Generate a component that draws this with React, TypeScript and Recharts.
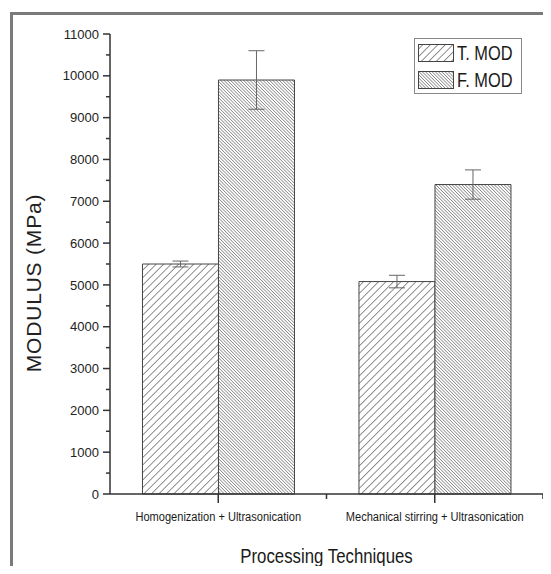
import React from "react";
import { BarChart, Bar, XAxis, YAxis, ErrorBar, Label } from "recharts";

const categories = ["Homogenization + Ultrasonication", "Mechanical stirring + Ultrasonication"];
const tMod = [5500, 5080];
const tModErr = [70, 150];
const fMod = [9900, 7400];
const fModErr = [700, 350];
const seriesNames = ["T. MOD", "F. MOD"];
const yTicks = [
    0, 500, 1000, 1500, 2000, 2500, 3000, 3500, 4000, 4500, 5000, 5500,
    6000, 6500, 7000, 7500, 8000, 8500, 9000, 9500, 10000, 10500, 11000,
];

const data = categories.map((name, i) => ({
    name,
    tMod: tMod[i],
    tErr: tModErr[i],
    fMod: fMod[i],
    fErr: fModErr[i],
}));

const SANS = "'Liberation Sans', Arial, sans-serif";
const AXIS = "#333";
const NARROW = 0.82; // horizontal squeeze to mimic Arial Narrow

// plot box: left 110, right 543
const HALF_BAND = (543 - 110) / categories.length / 2;

// text squeezed horizontally around its anchor point
const NarrowText = ({ x, y, size, anchor = "middle", children }: any) => (
    <text
        transform={`translate(${x},${y}) scale(${NARROW},1)`}
        x={0}
        y={0}
        dy="0.36em"
        textAnchor={anchor}
        fontSize={size}
        fontFamily={SANS}
        fill="#1a1a1a"
    >
        {children}
    </text>
);

const YTick = (props: any) => {
    const { x, y, payload } = props;
    const major = payload.value % 1000 === 0;
    return (
        <g>
            <line x1={x - (major ? 7 : 4)} x2={x} y1={y} y2={y} stroke={AXIS} strokeWidth={1.5} />
            {major && (
                <text x={x - 11} y={y} dy="0.36em" textAnchor="end" fontSize={13} fontFamily={SANS} fill="#222">
                    {payload.value}
                </text>
            )}
        </g>
    );
};

const XTick = (props: any) => {
    const { x, y, payload } = props;
    return (
        <g>
            <line x1={x} x2={x} y1={y} y2={y + 9} stroke={AXIS} strokeWidth={1.5} />
            <line x1={x + HALF_BAND} x2={x + HALF_BAND} y1={y} y2={y + 5} stroke={AXIS} strokeWidth={1.5} />
            <NarrowText x={x} y={y + 22} size={13.5}>
                {payload.value}
            </NarrowText>
        </g>
    );
};

const Patterns = ({ suffix = "" }: { suffix?: string }) => (
    <defs>
        <pattern id={"hatchT" + suffix} patternUnits="userSpaceOnUse" width="5.3" height="5.3" patternTransform="rotate(45)">
            <rect width="5.3" height="5.3" fill="#fff" />
            <line x1="0" y1="0" x2="0" y2="5.3" stroke="#555" strokeWidth="1.3" />
        </pattern>
        <pattern id={"hatchF" + suffix} patternUnits="userSpaceOnUse" width="2.3" height="2.3" patternTransform="rotate(-45)">
            <rect width="2.3" height="2.3" fill="#fff" />
            <line x1="0" y1="0" x2="0" y2="2.3" stroke="#666" strokeWidth="1.2" />
        </pattern>
    </defs>
);

const LegendBox = () => (
    <svg style={{ position: "absolute", left: 414, top: 38 }} width={109} height={57}>
        <Patterns suffix="L" />
        <rect x={0.5} y={0.5} width={107} height={55} fill="#fff" stroke="#888" />
        {seriesNames.map((s, i) => (
            <g key={s}>
                <rect
                    x={4.5}
                    y={6.5 + i * 27}
                    width={35}
                    height={17}
                    fill={i === 0 ? "url(#hatchTL)" : "url(#hatchFL)"}
                    stroke="#444"
                />
                <NarrowText x={43} y={15 + i * 27} size={20} anchor="start">
                    {s}
                </NarrowText>
            </g>
        ))}
    </svg>
);

export default function App() {
    return (
        <div
            style={{
                position: "relative",
                width: 551,
                height: 574,
                margin: -8,
                background: "#fff",
                overflow: "hidden",
            }}
        >
            <div style={{ position: "absolute", left: 10, top: 12, width: 3, bottom: 0, background: "#7a7a7a" }} />
            <div style={{ position: "absolute", left: 10, top: 12, right: 0, height: 3, background: "#7a7a7a" }} />
            <div style={{ position: "absolute", left: 0, top: 0 }}>
                <BarChart
                    width={551}
                    height={574}
                    data={data}
                    margin={{ top: 34, right: 8, bottom: 0, left: 40 }}
                    barCategoryGap="15%"
                    barGap={0}
                >
                    <Patterns />
                    <XAxis
                        dataKey="name"
                        height={80}
                        tick={<XTick />}
                        tickLine={false}
                        tickSize={0}
                        tickMargin={0}
                        interval={0}
                        axisLine={{ stroke: AXIS, strokeWidth: 1.5 }}
                    >
                        <Label
                            content={(p: any) => {
                                const vb = p.viewBox;
                                return (
                                    <NarrowText x={vb.x + vb.width / 2} y={vb.y + 62} size={20.5}>
                                        Processing Techniques
                                    </NarrowText>
                                );
                            }}
                        />
                    </XAxis>
                    <XAxis
                        xAxisId="top"
                        dataKey="name"
                        orientation="top"
                        height={0}
                        tick={false}
                        tickLine={false}
                        axisLine={{ stroke: "#c8c8c8" }}
                    />
                    <YAxis
                        width={70}
                        domain={[0, 11000]}
                        ticks={yTicks}
                        interval={0}
                        tick={<YTick />}
                        tickLine={false}
                        tickSize={0}
                        tickMargin={0}
                        axisLine={{ stroke: AXIS, strokeWidth: 1.5 }}
                    >
                        <Label
                            content={(p: any) => {
                                const vb = p.viewBox;
                                const cx = vb.x - 7;
                                const cy = vb.y + vb.height / 2 + 19;
                                return (
                                    <text
                                        x={cx}
                                        y={cy}
                                        dy="0.36em"
                                        textAnchor="middle"
                                        fontSize={21}
                                        letterSpacing={0.8}
                                        fontFamily={SANS}
                                        fill="#222"
                                        transform={`rotate(-90, ${cx}, ${cy})`}
                                    >
                                        MODULUS (MPa)
                                    </text>
                                );
                            }}
                        />
                    </YAxis>
                    <YAxis
                        yAxisId="right"
                        orientation="right"
                        width={0}
                        domain={[0, 11000]}
                        tick={false}
                        tickLine={false}
                        axisLine={{ stroke: "#c8c8c8" }}
                    />
                    <Bar dataKey="tMod" name={seriesNames[0]} fill="url(#hatchT)" stroke="#444" strokeWidth={1} isAnimationActive={false}>
                        <ErrorBar dataKey="tErr" width={8} stroke="#666" strokeWidth={1} />
                    </Bar>
                    <Bar dataKey="fMod" name={seriesNames[1]} fill="url(#hatchF)" stroke="#444" strokeWidth={1} isAnimationActive={false}>
                        <ErrorBar dataKey="fErr" width={8} stroke="#666" strokeWidth={1} />
                    </Bar>
                </BarChart>
            </div>
            <LegendBox />
        </div>
    );
}
